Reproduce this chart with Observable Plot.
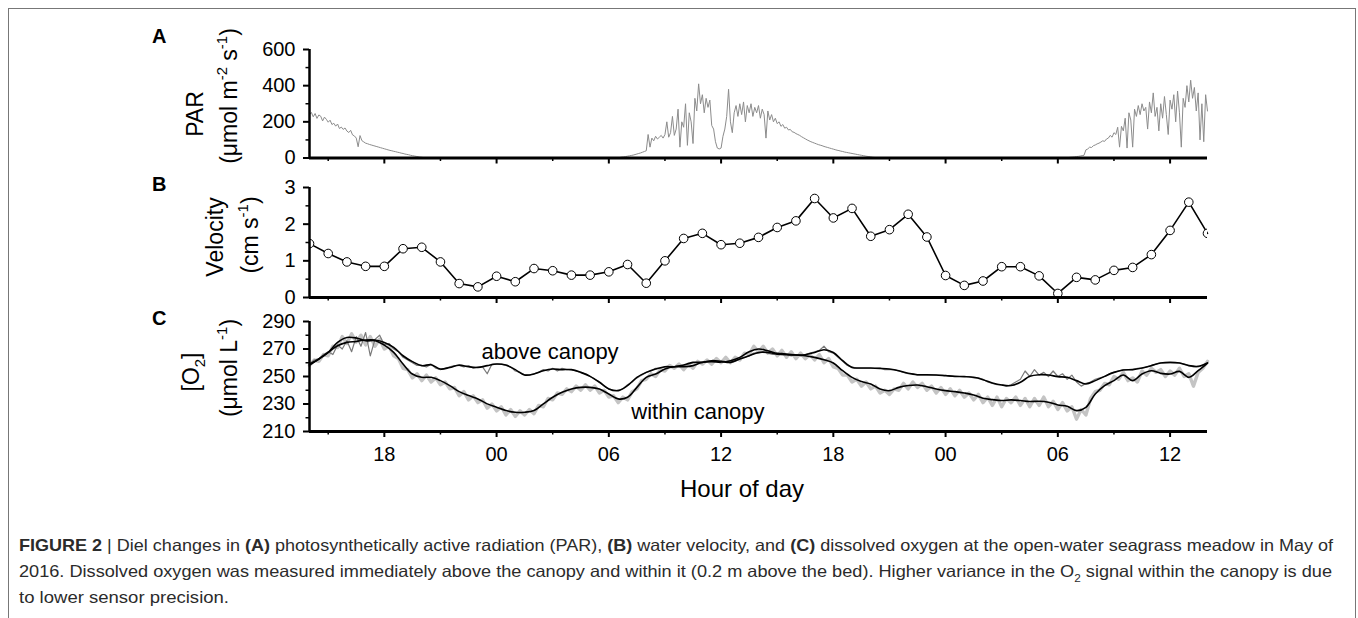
<!DOCTYPE html>
<html><head><meta charset="utf-8">
<script src="https://cdn.jsdelivr.net/npm/d3@7"></script>
<script src="https://cdn.jsdelivr.net/npm/@observablehq/plot@0.6"></script>
<style>
html,body{margin:0;padding:0;background:#fff;overflow:hidden;}
#root{position:relative;width:1358px;height:618px;font-family:"Liberation Sans",Arial,sans-serif;}
#frame{position:absolute;left:8px;top:8px;width:1348px;height:700px;box-sizing:border-box;border:1px solid #777;border-bottom:none;z-index:5;}
</style></head><body><div id="root"><div id="frame"></div></div>
<script>
// ---------- axis / tick data ----------
const hourStart = 14, hourEnd = 62;
const majorHourTicks = [18, 24, 30, 36, 42, 48, 54, 60];
const minorHourTicks = [15, 21, 27, 33, 39, 45, 51, 57];
const parTicks = [0, 200, 400, 600], parMinorTicks = [100, 300, 500];
const velTicks = [0, 1, 2, 3], velMinorTicks = [0.5, 1.5, 2.5];
const o2Ticks = [210, 230, 250, 270, 290], o2MinorTicks = [220, 240, 260, 280];

// ---------- PAR (umol m-2 s-1), sampled every 0.1 h ----------
const parStep = 0.1;
const parDay1Start = 14.0;
const parDay1 = [
  240,252,228,246,219,238,231,205,226,214,
  198,209,185,192,176,188,163,171,158,166,
  149,141,153,128,122,110,62,124,96,89,
  82,79,75,72,69,66,63,60,57,54,
  51,48,45,42,40,37,35,32,30,27,
  25,22,20,18,15,13,11,9,7,5,
  4,2,1,0,0
];
const parDay2Start = 30.2;
const parDay2 = [
  0,0,1,2,3,5,6,8,
  10,12,14,16,19,22,25,28,32,36,
  40,130,60,110,95,120,105,115,125,110,
  130,200,115,140,230,125,160,270,60,200,
  170,300,70,250,200,80,330,260,410,300,
  350,250,330,280,320,180,160,90,55,50,
  55,120,160,230,380,200,140,250,290,230,
  300,240,310,200,290,250,300,230,280,250,
  290,220,270,240,110,260,210,240,200,220,
  190,200,175,185,165,170,155,158,145,142,
  135,130,125,118,112,106,100,95,90,86,
  82,78,74,71,68,64,61,58,55,52,
  49,46,43,41,38,36,33,31,29,27,
  25,23,21,19,17,15,13,11,9,8,
  6,4,3,1,0,0
];
const parDay3Start = 54.2;
const parDay3 = [
  0,0,1,2,3,4,5,6,
  8,9,11,13,15,45,50,60,58,68,
  72,78,82,88,95,92,105,110,125,115,
  140,130,170,60,175,150,220,55,250,210,
  60,270,230,290,240,300,260,280,160,310,
  250,360,230,280,150,300,220,340,240,130,
  320,270,350,200,370,250,60,330,280,400,
  310,430,330,390,260,360,100,300,90,350,
  260
];

// ---------- Velocity (cm s-1), hourly ----------
const velocityStart = 14;
const velocityValues = [
  1.47,1.2,0.97,0.85,0.85,1.33,1.37,0.97,0.38,0.29,
  0.58,0.43,0.79,0.73,0.61,0.61,0.7,0.9,0.39,1.0,
  1.61,1.75,1.44,1.48,1.64,1.91,2.09,2.7,2.17,2.43,
  1.67,1.85,2.27,1.65,0.6,0.33,0.45,0.84,0.84,0.59,
  0.11,0.55,0.48,0.74,0.82,1.17,1.83,2.6,1.75
];

// ---------- O2 (umol L-1) ----------
const o2SmoothStep = 0.5;
const aboveSmooth = [
  258.3,262.7, 267.5,272.4, 274.8,275.5, 276.5,276.5, 274.8,271.2,
  265.1,260.8, 257.9,258.6, 255.4,256.6, 258.3,257.1, 256.6,257.9,
  259.1,258.3, 255,251.1, 251.8,254.2, 255.4,255, 255,253,
  250.1,245.8, 240.9,239.7, 243.4,249.4, 253,255.4, 257.1,257.1,
  258.3,260.3, 260.3,261.5, 261,260.3, 262.7,265.1, 267.5,267.5,
  266.3,265.8, 265.6,265.8, 267.5,269.5, 267.5,261.5, 256.6,256.2,
  256.2,255.9, 255.4,254.2, 252.3,251.3, 251.3,251.1, 250.6,250.1,
  249.9,249.4, 247.7,245.3, 243.8,243.4, 245.8,250.1, 251.3,251.1,
  249.9,249.4, 247,244.6, 247,250.1, 253,254.7, 255,256.2,
  257.9,259.8, 260.3,259.8, 257.9,257.4, 259.8
];
const withinSmooth = [
  259,262.7, 267.5,274.8, 278.4,278, 276,276, 272.8,267.5,
  259.1,251.8, 249.4,249.4, 247,243.4, 239,236.1, 233.7,230.1,
  227.6,225.2, 224,224, 225.2,230.1, 234.9,238.5, 240.9,242.1,
  242.1,240.9, 237.3,233.7, 234.9,242.1, 249.4,251.8, 255.4,257.1,
  257.1,257.9, 260.3,260.8, 260.5,261.5, 263.9,268, 270,268.7,
  266.8,266.3, 265.6,265.1, 263.9,262.2, 259.8,254.2, 249.4,246.3,
  244.6,240.9, 239.7,242.1, 243.4,243.8, 242.6,240.9, 239.7,239,
  238,236.6, 234.2,233.2, 232.5,233, 232.5,231.8, 232,231.3,
  229.3,228.4, 225.2,227.6, 237.3,243.4, 247,251.1, 247,251.8,
  254.2,252.3, 251.8,253.7, 249.4,254.2, 259.8
];
const o2RawStep = 0.25;
const aboveRaw = [
  259,262,263,266, 268,266,273,270, 276,268,279,272, 282,265,277,280,
  273,274,270,268, 264,262,260,258, 258,257,259,256, 255,256,257,258,
  258,257,258,256, 257,257,252,259, 259,259,258,257, 254,253,251,251,
  252,253,255,254, 256,254,256,255, 255,254,253,252, 250,248,246,243,
  241,240,240,241, 244,246,249,251, 253,254,256,256, 257,257,257,258,
  258,259,260,260, 260,261,261,261, 261,261,260,261, 263,264,265,267,
  267,268,267,266, 266,267,266,265, 266,265,266,267, 268,269,272,268,
  267,264,261,258, 257,256,256,256, 256,256,256,255, 255,255,254,253,
  252,252,251,251, 251,251,251,251, 251,250,250,250, 250,250,249,249,
  248,246,245,244, 244,243,244,246, 248,254,250,255, 251,253,250,254,
  250,252,248,251, 246,243,245,246, 248,249,250,252, 253,254,255,255,
  255,256,256,257, 258,259,260,260, 260,260,260,259, 258,257,257,258,
  260
];
const withinRaw = [
  258,262,261,266, 265,272,271,279, 274,281,275,280, 273,279,272,277,
  270,272,265,263, 256,255,249,252, 247,251,246,249, 244,246,241,242,
  236,239,233,236, 231,233,227,230, 225,228,222,226, 221,225,222,226,
  223,229,228,234, 233,238,237,241, 239,243,240,244, 240,243,238,240,
  235,236,231,235, 233,239,241,247, 248,252,250,255, 254,258,256,259,
  255,259,256,261, 259,262,259,263, 260,264,260,264, 262,267,266,272,
  268,272,267,270, 265,269,264,268, 263,267,263,266, 262,266,260,263,
  257,256,251,251, 246,248,243,246, 241,243,238,240, 237,241,240,245,
  241,246,242,245, 240,243,238,242, 237,241,236,240, 235,238,233,237,
  231,235,229,235, 228,234,231,235, 229,234,228,234, 229,235,228,232,
  226,231,225,228, 219,226,222,234, 239,240,245,244, 250,248,253,247,
  249,246,254,251, 256,253,255,250, 254,251,256,250, 252,243,253,256,
  261
];

// ---------- annotation text ----------
const annotationLabels = ["above canopy", "within canopy"];
const annotationHours = [23.2, 31.2];
const annotationValues = [267.5, 224.5];

// ---------- build tables ----------
const series = (start, step, values) => values.map((v, i) => ({h: start + i * step, v}));
const parData = [
  ...series(parDay1Start, parStep, parDay1),
  ...series(parDay2Start, parStep, parDay2),
  ...series(parDay3Start, parStep, parDay3)
];
const velData = series(velocityStart, 1, velocityValues);
const aboveSmoothData = series(hourStart, o2SmoothStep, aboveSmooth);
const withinSmoothData = series(hourStart, o2SmoothStep, withinSmooth);
const aboveRawData = series(hourStart, o2RawStep, aboveRaw);
const withinRawData = series(hourStart, o2RawStep, withinRaw);
const annotations = annotationLabels.map((t, i) => ({t, h: annotationHours[i], v: annotationValues[i]}));

const fmtHour = h => String(h % 24).padStart(2, "0");
const FONT = '"Liberation Sans", Arial, Helvetica, sans-serif';
const root = document.getElementById("root");

function panel({top, height, mt, mb, yDomain, yTicks, yMinor, marks, xLabels}) {
  const svg = Plot.plot({
    width: 1358, height,
    marginLeft: 309, marginRight: 151, marginTop: mt, marginBottom: mb,
    x: {domain: [hourStart, hourEnd]},
    y: {domain: yDomain},
    style: {fontFamily: FONT, fontSize: "20px", color: "#000", background: "transparent", overflow: "visible"},
    marks: [
      ...marks,
      Plot.ruleX([hourStart], {stroke: "#000", strokeWidth: 2.5}),
      Plot.ruleY([yDomain[0]], {stroke: "#000", strokeWidth: 2.8}),
      Plot.axisY(yTicks, {tickSize: 6, tickPadding: 8, strokeWidth: 2, label: null}),
      Plot.axisY(yMinor, {tickSize: 3.5, strokeWidth: 1.5, label: null, tickFormat: () => ""}),
      Plot.axisX(majorHourTicks, {tickSize: 6, tickPadding: 9, strokeWidth: 2, label: null, tickFormat: xLabels ? fmtHour : () => ""}),
      Plot.axisX(minorHourTicks, {tickSize: 3.5, strokeWidth: 1.5, label: null, tickFormat: () => ""})
    ]
  });
  svg.style.position = "absolute";
  svg.style.left = "0px";
  svg.style.top = top + "px";
  root.appendChild(svg);
}

// Panel A: PAR
panel({
  top: 0, height: 170, mt: 49, mb: 12.5,
  yDomain: [0, 600], yTicks: parTicks, yMinor: parMinorTicks, xLabels: false,
  marks: [Plot.line(parData, {x: "h", y: "v", stroke: "#8c8c8c", strokeWidth: 1})]
});

// Panel B: velocity
panel({
  top: 170, height: 140, mt: 17, mb: 13,
  yDomain: [0, 3], yTicks: velTicks, yMinor: velMinorTicks, xLabels: false,
  marks: [
    Plot.line(velData, {x: "h", y: "v", stroke: "#000", strokeWidth: 1.6}),
    Plot.dot(velData, {x: "h", y: "v", r: 4.3, fill: "#fff", stroke: "#000", strokeWidth: 1, clip: true})
  ]
});

// Panel C: oxygen
panel({
  top: 310, height: 190, mt: 11, mb: 69,
  yDomain: [210, 290], yTicks: o2Ticks, yMinor: o2MinorTicks, xLabels: true,
  marks: [
    Plot.line(withinRawData, {x: "h", y: "v", stroke: "#c4c4c4", strokeWidth: 3.4}),
    Plot.line(aboveRawData, {x: "h", y: "v", stroke: "#7a7a7a", strokeWidth: 1.2}),
    Plot.line(aboveSmoothData, {x: "h", y: "v", stroke: "#000", strokeWidth: 1.6, curve: "catmull-rom"}),
    Plot.line(withinSmoothData, {x: "h", y: "v", stroke: "#000", strokeWidth: 1.6, curve: "catmull-rom"}),
    Plot.text(annotations, {x: "h", y: "v", text: "t", textAnchor: "start", lineAnchor: "middle", fontSize: 22, fill: "#000"})
  ]
});

// ---------- overlay texts ----------
const ov = d3.select(root).append("svg")
  .attr("width", 1358).attr("height", 618)
  .style("position", "absolute").style("left", "0px").style("top", "0px")
  .style("font-family", FONT);

// parts: strings, {sup}, {sub}, {b}; the baseline is restored on the following part
function richText(t, parts, size) {
  let pending = 0;
  parts.forEach(p => {
    const s = t.append("tspan");
    if (typeof p === "string" || p.b) {
      s.text(typeof p === "string" ? p : p.b);
      if (p.b) s.attr("font-weight", "bold");
      if (pending) { s.attr("dy", pending); pending = 0; }
    } else {
      const shift = p.sup ? -0.42 * size : 0.28 * size;
      s.attr("font-size", size * 0.65).attr("dy", shift + pending).text(p.sup || p.sub);
      pending = -shift;
    }
  });
}
function rotLabel(x, y, parts, size = 23) {
  const t = ov.append("text").attr("transform", `translate(${x},${y}) rotate(-90)`)
    .attr("text-anchor", "middle").attr("font-size", size).attr("fill", "#000");
  richText(t, parts, size);
}
rotLabel(203, 114, ["PAR"]);
rotLabel(237, 96, ["(\u03bcmol m", {sup: "-2"}, " s", {sup: "-1"}, ")"]);
rotLabel(223, 237, ["Velocity"]);
rotLabel(258, 235, ["(cm s", {sup: "-1"}, ")"]);
rotLabel(199, 372, ["[O", {sub: "2"}, "]"]);
rotLabel(237, 368, ["(\u03bcmol L", {sup: "-1"}, ")"]);

[["A", 43], ["B", 191], ["C", 325]].forEach(([l, y]) =>
  ov.append("text").attr("x", 152).attr("y", y).attr("font-size", 20).attr("font-weight", "bold").text(l));

ov.append("text").attr("x", 742).attr("y", 497).attr("text-anchor", "middle").attr("font-size", 24).text("Hour of day");

// caption
function captionLine(y, parts, len) {
  const t = ov.append("text").attr("x", 19).attr("y", y).attr("font-size", 16.5).attr("fill", "#2b2b2b")
    .attr("textLength", len).attr("lengthAdjust", "spacingAndGlyphs");
  richText(t, parts, 16.5);
}
captionLine(551, [{b: "FIGURE 2"}, " | Diel changes in ", {b: "(A)"}, " photosynthetically active radiation (PAR), ", {b: "(B)"}, " water velocity, and ", {b: "(C)"}, " dissolved oxygen at the open-water seagrass meadow in May of"], 1314);
captionLine(577, ["2016. Dissolved oxygen was measured immediately above the canopy and within it (0.2 m above the bed). Higher variance in the O", {sub: "2"}, " signal within the canopy is due"], 1313);
captionLine(603, ["to lower sensor precision."], 210);
</script></body></html>
